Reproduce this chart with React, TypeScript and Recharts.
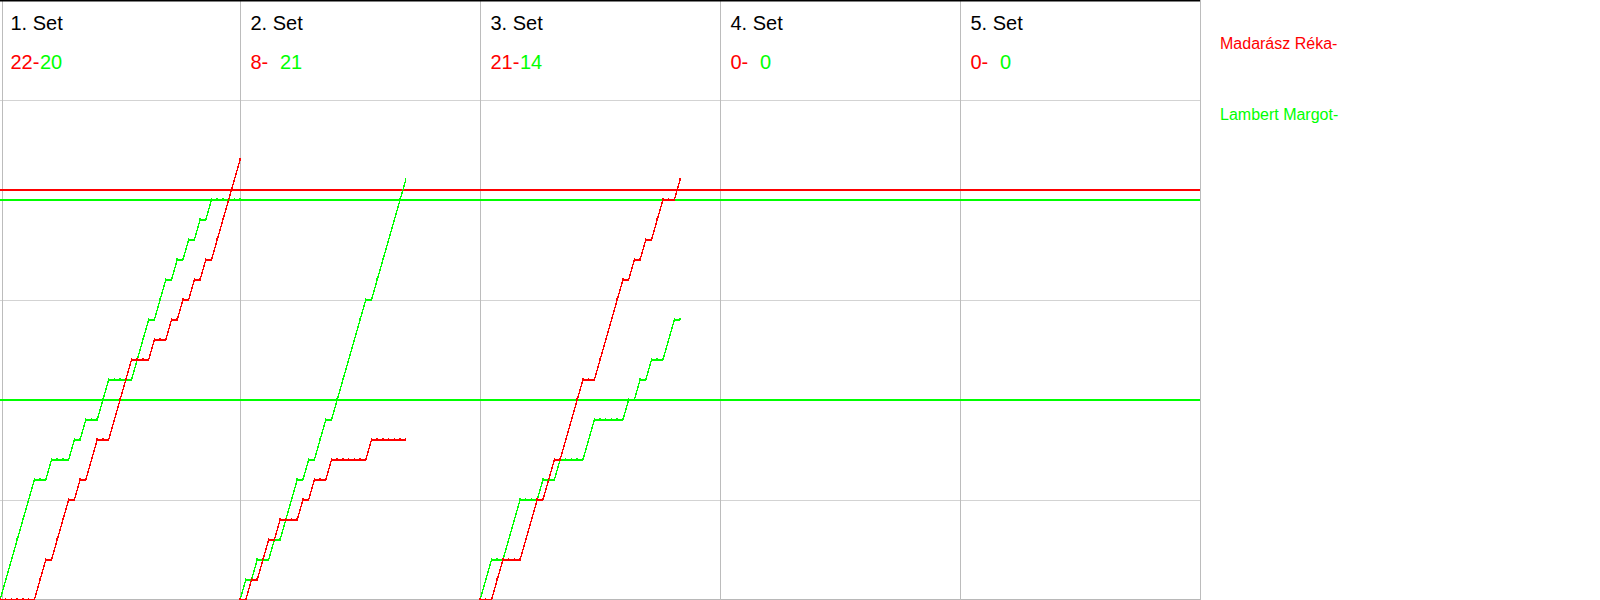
import React from 'react';
import { LineChart, Line, XAxis, YAxis, ReferenceLine } from 'recharts';

// ---- text content ----
const setTitles = ['1. Set', '2. Set', '3. Set', '4. Set', '5. Set'];
const redSetScores = [22, 8, 21, 0, 0];
const greenSetScores = [20, 21, 14, 0, 0];
const playerNames = ['Madarász Réka-', 'Lambert Margot-'];

// ---- running score after each rally (index 0 = start of set) ----
const set1Red = [0, 0, 0, 0, 0, 0, 0, 1, 2, 2, 3, 4, 5, 5, 6, 6, 7, 8, 8, 8, 9, 10, 11, 12, 12, 12, 12, 13, 13, 13, 14, 14, 15, 15, 16, 16, 17, 17, 18, 19, 20, 21, 22];
const set1Green = [0, 1, 2, 3, 4, 5, 6, 6, 6, 7, 7, 7, 7, 8, 8, 9, 9, 9, 10, 11, 11, 11, 11, 11, 12, 13, 14, 14, 15, 16, 16, 17, 17, 18, 18, 19, 19, 20, 20, 20, 20, 20, 20];
const set2Red = [0, 0, 1, 1, 2, 3, 3, 4, 4, 4, 4, 5, 5, 6, 6, 6, 7, 7, 7, 7, 7, 7, 7, 8, 8, 8, 8, 8, 8, 8];
const set2Green = [0, 1, 1, 2, 2, 2, 3, 3, 4, 5, 6, 6, 7, 7, 8, 9, 9, 10, 11, 12, 13, 14, 15, 15, 16, 17, 18, 19, 20, 21];
const set3Red = [0, 0, 0, 1, 2, 2, 2, 2, 3, 4, 5, 5, 6, 7, 7, 8, 9, 10, 11, 11, 11, 12, 13, 14, 15, 16, 16, 17, 17, 18, 18, 19, 20, 20, 20, 21];
const set3Green = [0, 1, 2, 2, 2, 3, 4, 5, 5, 5, 5, 6, 6, 6, 7, 7, 7, 7, 7, 8, 9, 9, 9, 9, 9, 9, 10, 10, 11, 11, 12, 12, 12, 13, 14, 14];

const redSets = [set1Red, set2Red, set3Red];
const greenSets = [set1Green, set2Green, set3Green];

// reference score levels
const redLevels = [20.5];
const greenLevels = [20, 10];
const gridLevels = [25, 15, 5];

const RED = '#ff0000';
const GREEN = '#00ff00';
const RALLIES_PER_COLUMN = 42;
const COLUMNS = 5;
const PLOT_W = 1200;
const COL_W = PLOT_W / COLUMNS;
const FONT = '"Liberation Sans", Arial, Helvetica, sans-serif';

const toSeries = (scores: number[], setIndex: number) =>
  scores.map((v, k) => ({ x: setIndex * RALLIES_PER_COLUMN + k, y: v }));

const makeDot = (color: string) => (props: any) => {
  const { cx, cy, index } = props;
  if (cx == null || cy == null) return <g key={`d${index}`} />;
  return (
    <rect
      key={`d${index}`}
      x={cx - 0.75}
      y={cy - 2}
      width={1.5}
      height={2}
      fill={color}
      shapeRendering="crispEdges"
    />
  );
};

const columnBounds = Array.from({ length: COLUMNS + 1 }, (_, i) => i * RALLIES_PER_COLUMN);

export default function App() {
  return (
    <div style={{ position: 'absolute', left: 0, top: 0, width: 1600, height: 600, background: '#fff' }}>
      <LineChart width={1600} height={601} margin={{ top: 0, right: 400, bottom: 1, left: 0 }}>
        <XAxis dataKey="x" type="number" domain={[0, COLUMNS * RALLIES_PER_COLUMN]} hide allowDataOverflow />
        <YAxis type="number" domain={[0, 30]} hide allowDataOverflow />
        {gridLevels.map((v) => (
          <ReferenceLine key={`g${v}`} y={v} stroke="#d3d3d3" strokeWidth={1} shapeRendering="crispEdges" />
        ))}
        <ReferenceLine y={0.05} stroke="#b8b8b8" strokeWidth={1} shapeRendering="crispEdges" />
        {columnBounds.map((b, i) => (
          <ReferenceLine
            key={`c${b}`}
            x={i === 0 ? 0.4 : b}
            stroke="#bcbcbc"
            strokeWidth={1}
            shapeRendering="crispEdges"
          />
        ))}
        <ReferenceLine y={30} stroke="#000" strokeWidth={3} />
        {greenLevels.map((v) => (
          <ReferenceLine key={`gl${v}`} y={v} stroke={GREEN} strokeWidth={1.3} shapeRendering="crispEdges" />
        ))}
        {redLevels.map((v) => (
          <ReferenceLine key={`rl${v}`} y={v} stroke={RED} strokeWidth={1.3} shapeRendering="crispEdges" />
        ))}
        {greenSets.map((s, i) => (
          <Line
            key={`gs${i}`}
            data={toSeries(s, i)}
            dataKey="y"
            type="linear"
            stroke={GREEN}
            strokeWidth={1.3}
            dot={makeDot(GREEN)}
            activeDot={false}
            isAnimationActive={false}
            shapeRendering="crispEdges"
          />
        ))}
        {redSets.map((s, i) => (
          <Line
            key={`rs${i}`}
            data={toSeries(s, i)}
            dataKey="y"
            type="linear"
            stroke={RED}
            strokeWidth={1.3}
            dot={makeDot(RED)}
            activeDot={false}
            isAnimationActive={false}
            shapeRendering="crispEdges"
          />
        ))}
      </LineChart>
      <svg
        width={1600}
        height={600}
        style={{ position: 'absolute', left: 0, top: 0, pointerEvents: 'none' }}
      >
        {setTitles.map((t, i) => (
          <g key={t}>
            <text x={i * COL_W + 10.5} y={30} fontFamily={FONT} fontSize={20} fill="#000">
              {t}
            </text>
            <text x={i * COL_W + 10.5} y={69} fontFamily={FONT} fontSize={20} fill={RED}>
              {`${redSetScores[i]}-`}
            </text>
            <text x={i * COL_W + 40} y={69} fontFamily={FONT} fontSize={20} fill={GREEN}>
              {`${greenSetScores[i]}`}
            </text>
          </g>
        ))}
        <text x={1220} y={49} fontFamily={FONT} fontSize={16} fill={RED}>
          {playerNames[0]}
        </text>
        <text x={1220} y={120} fontFamily={FONT} fontSize={16} fill={GREEN}>
          {playerNames[1]}
        </text>
      </svg>
    </div>
  );
}
